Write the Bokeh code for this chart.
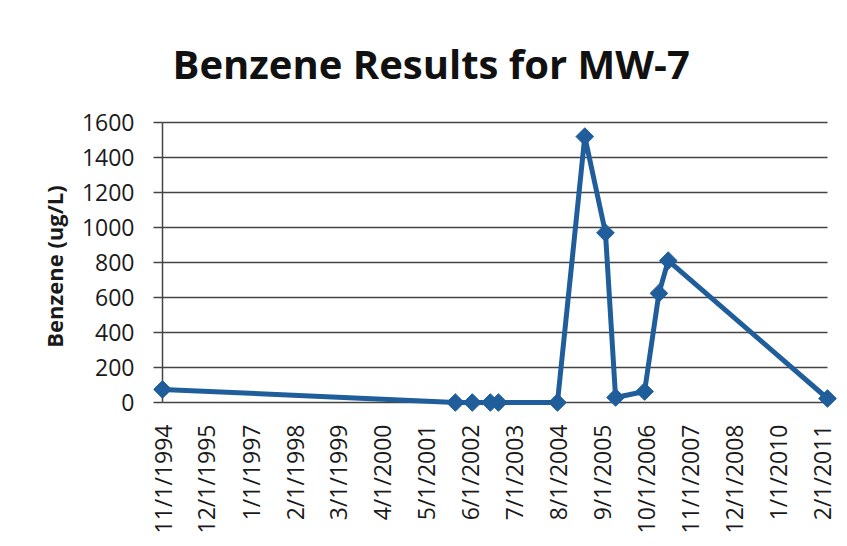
from datetime import datetime
import numpy as np
from bokeh.plotting import figure
from bokeh.models import Range1d, FixedTicker
from bokeh.embed import file_html
from bokeh.resources import INLINE

# ---- data ----
sample_dates = ["11/1/1994", "1/18/2002", "6/20/2002", "11/29/2002", "2/10/2003",
                "7/25/2004", "3/28/2005", "9/30/2005", "12/30/2005", "9/17/2006",
                "1/24/2007", "4/18/2007", "3/21/2011"]
benzene = [75, 0, 0, 0, 0, 0, 1520, 970, 29, 63, 624, 811, 23]

tick_labels = ["11/1/1994", "12/1/1995", "1/1/1997", "2/1/1998", "3/1/1999",
               "4/1/2000", "5/1/2001", "6/1/2002", "7/1/2003", "8/1/2004",
               "9/1/2005", "10/1/2006", "11/1/2007", "12/1/2008", "1/1/2010",
               "2/1/2011"]
y_ticks = [0, 200, 400, 600, 800, 1000, 1200, 1400, 1600]

title_text = "Benzene Results for MW-7"
y_label = "Benzene (ug/L)"

# ---- conversion ----
EPOCH = datetime(1970, 1, 1)
DAY = 86400000


def to_ms(s):
    return int((datetime.strptime(s, "%m/%d/%Y") - EPOCH).total_seconds() * 1000)


x_ms = [to_ms(d) for d in sample_dates]
tick_ms = [to_ms(d) for d in tick_labels]
x0, x1 = min(x_ms), max(x_ms)

BLUE = "#1f5e9b"
GRID = "#444444"
TEXT = "#1a1a1a"

p = figure(width=839, height=538, x_axis_type="datetime",
           x_range=Range1d(x0 - 81 * DAY, x1 + 90 * DAY),
           y_range=Range1d(-57, 1612),
           output_backend="svg", toolbar_location=None, title=title_text)
p.min_border_left = 153
p.min_border_right = 2
p.min_border_top = 120
p.min_border_bottom = 126
p.outline_line_color = None
p.background_fill_color = "white"
p.border_fill_color = "white"
p.xgrid.visible = False
p.ygrid.visible = False

# gridlines & axis line drawn over the data extent
n = len(y_ticks)
p.segment(x0=[x0] * n, y0=y_ticks, x1=[x1] * n, y1=y_ticks,
          line_color=GRID, line_width=1.5)
p.segment(x0=[x0], y0=[min(y_ticks)], x1=[x0], y1=[max(y_ticks)],
          line_color=GRID, line_width=1.5)

p.line(x_ms, benzene, line_color=BLUE, line_width=5, line_join="round")
p.scatter(x_ms, benzene, marker="square", angle=np.pi / 4, size=12.5,
          fill_color=BLUE, line_color=BLUE)

# y axis
p.yaxis.ticker = FixedTicker(ticks=y_ticks)
p.yaxis.axis_line_color = None
p.yaxis.major_tick_in = 9
p.yaxis.major_tick_out = 0
p.yaxis.major_tick_line_color = GRID
p.yaxis.major_tick_line_width = 1.5
p.yaxis.minor_tick_line_color = None
p.yaxis.major_label_standoff = 19
p.yaxis.major_label_text_font = "Open Sans"
p.yaxis.major_label_text_font_size = "23px"
p.yaxis.major_label_text_color = TEXT
p.yaxis.axis_label = y_label
p.yaxis.axis_label_text_font = "Open Sans"
p.yaxis.axis_label_text_font_style = "bold"
p.yaxis.axis_label_text_font_size = "22px"
p.yaxis.axis_label_text_color = TEXT
p.yaxis.axis_label_standoff = 10

# x axis
p.xaxis.ticker = FixedTicker(ticks=tick_ms)
p.xaxis.major_label_overrides = dict(zip(tick_ms, tick_labels))
p.xaxis.major_label_orientation = np.pi / 2
p.xaxis.axis_line_color = None
p.xaxis.major_tick_line_color = None
p.xaxis.minor_tick_line_color = None
p.xaxis.major_label_standoff = 6
p.xaxis.major_label_text_font = "Open Sans"
p.xaxis.major_label_text_font_size = "23px"
p.xaxis.major_label_text_color = TEXT

# title
p.title.text_font = "Open Sans"
p.title.text_font_style = "bold"
p.title.text_font_size = "40px"
p.title.text_color = "#111111"
p.title.align = "left"
p.title.offset = 19
p.title.standoff = 60

open("out.html", "w").write(file_html(p, INLINE))
